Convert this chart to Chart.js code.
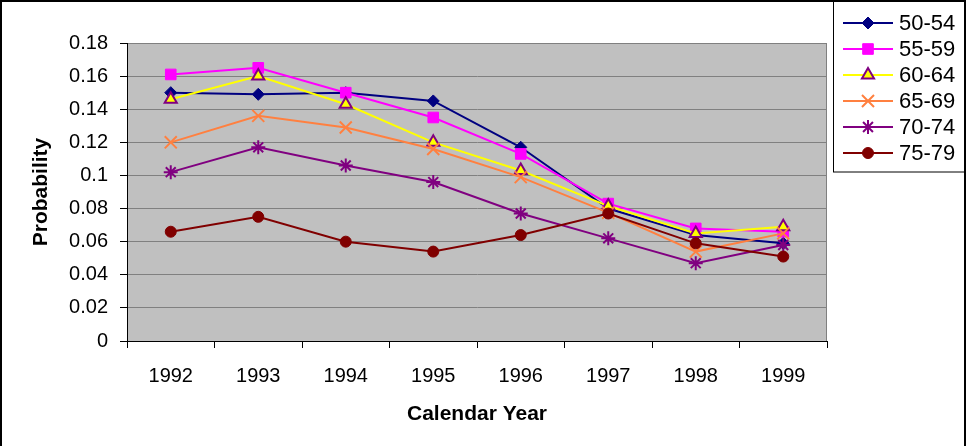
<!DOCTYPE html>
<html>
<head>
<meta charset="utf-8">
<script src="https://cdn.jsdelivr.net/npm/chart.js@4/dist/chart.umd.min.js"></script>
<style>
  html, body { margin: 0; padding: 0; background: #fff; }
  #wrap { width: 968px; height: 446px; }
</style>
</head>
<body>
<div id="wrap"><canvas id="chart" width="968" height="446"></canvas></div>
<script>
// values
const years = ['1992', '1993', '1994', '1995', '1996', '1997', '1998', '1999'];
const age5054 = [0.150, 0.149, 0.150, 0.145, 0.117, 0.080, 0.064, 0.059];
const age5559 = [0.161, 0.165, 0.150, 0.135, 0.113, 0.083, 0.068, 0.066];
const age6064 = [0.146, 0.160, 0.143, 0.120, 0.103, 0.0815, 0.065, 0.069];
const age6569 = [0.120, 0.136, 0.129, 0.116, 0.099, 0.0775, 0.054, 0.065];
const age7074 = [0.102, 0.117, 0.106, 0.096, 0.077, 0.062, 0.047, 0.058];
const age7579 = [0.066, 0.075, 0.060, 0.054, 0.064, 0.077, 0.059, 0.051];
const groupLabels = ['50-54', '55-59', '60-64', '65-69', '70-74', '75-79'];

const FONT = "'Liberation Sans', Arial, sans-serif";

// style per series: line colour, marker, marker fill, marker border
const styles = [
  { color: '#000080', point: 'rectRot',  radius: 6,   fill: '#000080', border: '#000080', bw: 1 },
  { color: '#FF00FF', point: 'rect',     radius: 7.5, fill: '#FF00FF', border: '#FF00FF', bw: 1 },
  { color: '#FFFF00', point: 'triangle', radius: 7,   fill: '#FFFF00', border: '#800080', bw: 2 },
  { color: '#FF8040', point: 'crossRot', radius: 8.5, fill: '#FF8040', border: '#FF8040', bw: 2 },
  { color: '#800080', point: 'star',     radius: 7,   fill: '#800080', border: '#800080', bw: 2 },
  { color: '#800000', point: 'circle',   radius: 5.5, fill: '#800000', border: '#800000', bw: 1 }
];
const series = [age5054, age5559, age6064, age6569, age7074, age7579];

const datasets = series.map((vals, i) => ({
  label: groupLabels[i],
  data: vals,
  borderColor: styles[i].color,
  borderWidth: 2,
  pointStyle: styles[i].point,
  pointRadius: styles[i].radius,
  pointBackgroundColor: styles[i].fill,
  pointBorderColor: styles[i].border,
  pointBorderWidth: styles[i].bw,
  tension: 0,
  order: series.length - 1 - i
}));

// grey plot area + frame, drawn before the grid
const plotBg = {
  id: 'plotBg',
  beforeDraw(chart) {
    const { ctx, chartArea: a } = chart;
    ctx.save();
    ctx.fillStyle = '#fff';
    ctx.fillRect(0, 0, chart.width, chart.height);
    ctx.fillStyle = '#C0C0C0';
    ctx.fillRect(a.left, a.top, a.right - a.left, a.bottom - a.top);
    ctx.strokeStyle = '#808080';
    ctx.lineWidth = 1;
    ctx.strokeRect(a.left + 0.5, a.top + 0.5, a.right - a.left - 1, a.bottom - a.top);
    ctx.restore();
  }
};

// legend box at the right, line + marker per entry, and the outer frame
const sideLegend = {
  id: 'sideLegend',
  afterDraw(chart) {
    const ctx = chart.ctx;
    ctx.save();
    ctx.fillStyle = '#fff';
    ctx.fillRect(833, 1, 132, 171);
    ctx.strokeStyle = '#000';
    ctx.lineWidth = 1;
    ctx.strokeRect(833.5, 1.5, 131, 170.5);
    const rowY = [23, 49, 75, 101, 127, 153];
    groupLabels.forEach((lab, i) => {
      const s = styles[i];
      const y = rowY[i];
      ctx.strokeStyle = s.color;
      ctx.lineWidth = 2;
      ctx.beginPath();
      ctx.moveTo(843, y);
      ctx.lineTo(893, y);
      ctx.stroke();
      ctx.fillStyle = s.fill;
      ctx.strokeStyle = s.border;
      ctx.lineWidth = s.bw;
      Chart.helpers.drawPoint(ctx, { pointStyle: s.point, radius: s.radius, rotation: 0, borderWidth: s.bw }, 868, y);
      ctx.fillStyle = '#000';
      ctx.font = '22px ' + FONT;
      ctx.textBaseline = 'middle';
      ctx.textAlign = 'left';
      ctx.fillText(lab, 899, y + 1);
    });
    // outer frame (left, top, right)
    ctx.strokeStyle = '#000';
    ctx.lineWidth = 2;
    ctx.beginPath();
    ctx.moveTo(1, 446);
    ctx.lineTo(1, 1);
    ctx.lineTo(965, 1);
    ctx.lineTo(965, 446);
    ctx.stroke();
    ctx.restore();
  }
};

new Chart(document.getElementById('chart').getContext('2d'), {
  type: 'line',
  data: { labels: years, datasets: datasets },
  options: {
    responsive: false,
    animation: false,
    layout: { padding: { left: 0, top: 43, right: 141, bottom: 0 } },
    plugins: { legend: { display: false }, tooltip: { enabled: false } },
    scales: {
      x: {
        offset: true,
        grid: { offset: true, drawOnChartArea: false, tickLength: 7, tickColor: '#000', tickWidth: 1 },
        border: { color: '#000', width: 1 },
        ticks: { color: '#000', font: { family: FONT, size: 20 }, padding: 16, maxRotation: 0 },
        title: {
          display: true, text: 'Calendar Year', color: '#000',
          font: { family: FONT, size: 21, weight: 'bold' },
          padding: { top: 0, bottom: 19 }
        },
        afterFit(scale) { scale.height = 105; }
      },
      y: {
        min: 0, max: 0.18,
        grid: { color: '#808080', lineWidth: 1, tickLength: 7, tickColor: '#000', drawTicks: true },
        border: { color: '#000', width: 1 },
        ticks: {
          stepSize: 0.02, color: '#000', padding: 12,
          font: { family: FONT, size: 20 },
          callback: v => String(Number(v.toFixed(2)))
        },
        title: {
          display: true, text: 'Probability', color: '#000',
          font: { family: FONT, size: 21, weight: 'bold' },
          padding: { top: 29, bottom: 0 }
        },
        afterFit(scale) { scale.width = 127; }
      }
    }
  },
  plugins: [plotBg, sideLegend]
});
</script>
</body>
</html>
